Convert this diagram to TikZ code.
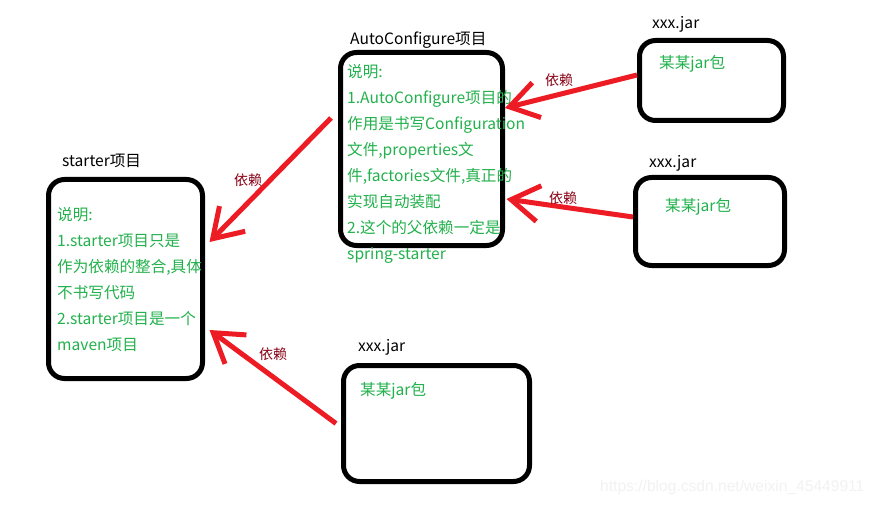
\documentclass[tikz,border=0pt]{standalone}
\usepackage{fontspec}
\setmainfont{Noto Sans CJK SC}
\newfontfamily\wmfont{Liberation Sans}
\usetikzlibrary{arrows.meta}
\definecolor{PaintRed}{HTML}{ED1C24}
\definecolor{PaintGreen}{HTML}{22B14C}
\definecolor{PaintMaroon}{HTML}{880015}

\begin{document}
\begin{tikzpicture}[x=1pt, y=-1pt,
        box/.style={rectangle, draw=black, line width=5pt, rounded corners=16pt, inner sep=0pt},
        title/.style={anchor=west, inner sep=0pt, font=\fontsize{15.6}{18}\selectfont},
        note/.style={anchor=north west, inner sep=0pt, align=left, text=PaintGreen, font=\fontsize{15.6}{26}\selectfont},
        dep/.style={-{Straight Barb[length=28pt,width=36pt]}, line width=5pt, PaintRed},
        deplabel/.style={text=PaintMaroon, inner sep=0pt, font=\fontsize{14}{16}\selectfont}]

        \fill[white] (0,0) rectangle (880,505);
        \useasboundingbox (0,0) rectangle (880,505);

        % boxes
        \node[box, minimum width=154pt, minimum height=199pt] (starter) at (125.5,279) {};
        \node[box, minimum width=162pt, minimum height=193pt] (auto) at (421.5,149) {};
        \node[box, minimum width=144pt, minimum height=80pt] (jarA) at (711.5,80.5) {};
        \node[box, minimum width=149pt, minimum height=88pt] (jarB) at (710,221.5) {};
        \node[box, minimum width=186pt, minimum height=116pt] (jarC) at (436.5,423.5) {};

        % titles
        \node[title] (starterTitle) at (62,161) {starter项目};
        \node[title] (autoTitle) at (350,40) {AutoConfigure项目};
        \node[title] (jarATitle) at (652,24) {xxx.jar};
        \node[title] (jarBTitle) at (649,163) {xxx.jar};
        \node[title] (jarCTitle) at (358,347) {xxx.jar};

        % notes
        \node[note] (starterNote) at (57,207) {说明:\\1.starter项目只是\\作为依赖的整合,具体\\不书写代码\\2.starter项目是一个\\maven项目};
        \node[note] (autoNote) at (347,64) {说明:\\1.AutoConfigure项目的\\作用是书写Configuration\\文件,properties文\\件,factories文件,真正的\\实现自动装配\\2.这个的父依赖一定是\\spring-starter};
        \node[note, anchor=west] (jarANote) at (659,64) {某某jar包};
        \node[note, anchor=west] (jarBNote) at (665,207) {某某jar包};
        \node[note, anchor=west] (jarCNote) at (360,391) {某某jar包};

        % dependencies
        \draw[dep] ([yshift=5.5pt]jarA.west) -- ([yshift=41pt]auto.east);
        \draw[dep] ([yshift=4.5pt]jarB.west) -- ([xshift=1.5pt,yshift=-50pt]auto.east);
        \draw[dep] ([xshift=-7pt,yshift=31pt]auto.west) -- ([xshift=4.5pt,yshift=37pt]starter.east);
        \draw[dep] ([xshift=-5pt]jarC.west) -- ([xshift=4.5pt,yshift=-51pt]starter.east);

        \node[deplabel] (depA) at (559,80) {依赖};
        \node[deplabel] (depB) at (563,198) {依赖};
        \node[deplabel] (depAuto) at (248,180) {依赖};
        \node[deplabel] (depC) at (273,354) {依赖};

        \node[anchor=west, inner sep=0pt, text=black!5, font=\wmfont\fontsize{15.6}{17}\selectfont] (mark) at (600,487) {https://blog.csdn.net/weixin\_45449911};
\end{tikzpicture}
\end{document}
